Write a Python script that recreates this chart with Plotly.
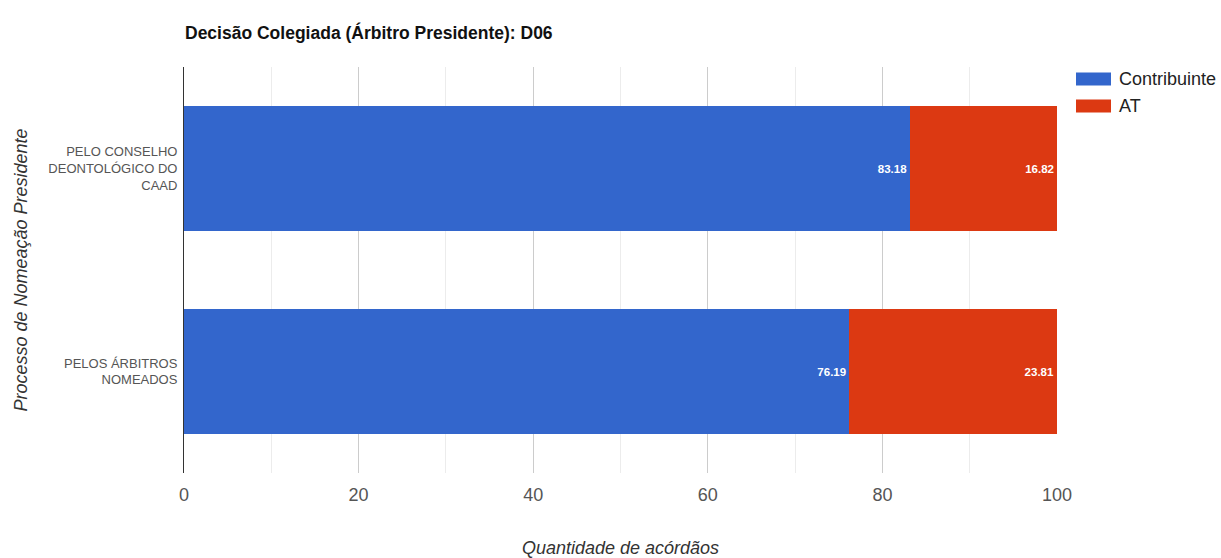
import plotly.graph_objects as go

# Categories (top to bottom) and percentage of decisions per party
categories = [
    "PELO CONSELHO<br>DEONTOLÓGICO DO<br>CAAD",
    "PELOS ÁRBITROS<br>NOMEADOS",
]
contribuinte = [83.18, 76.19]
at_values = [16.82, 23.81]
series_names = ["Contribuinte", "AT"]
series_colors = ["#3366CC", "#DC3912"]
x_ticks = [0, 20, 40, 60, 80, 100]

FONT = "Liberation Sans, Arial, sans-serif"
W, H = 1221, 558
M_L, M_R, M_T, M_B = 184, 164, 67, 85

fig = go.Figure()
for name, vals, col in zip(series_names, [contribuinte, at_values], series_colors):
    fig.add_trace(go.Bar(
        y=categories,
        x=vals,
        name=name,
        orientation="h",
        marker=dict(color=col, line=dict(width=0)),
        text=[f"{v:.2f}" for v in vals],
        textposition="inside",
        insidetextanchor="end",
        textangle=0,
        insidetextfont=dict(family=FONT, size=11.5, color="white", weight="bold"),
        showlegend=False,
    ))

# Legend drawn as wide colour keys to the right of the plot area
plot_w = W - M_L - M_R
plot_h = H - M_T - M_B
leg_x0 = (1076 - M_L) / plot_w
leg_x1 = (1111 - M_L) / plot_w
leg_tx = (1117 - M_L) / plot_w
for i, (name, col) in enumerate(zip(series_names, series_colors)):
    cy = (H - M_B - (79 + 27 * i)) / plot_h
    hh = 6.5 / plot_h
    fig.add_shape(type="rect", xref="paper", yref="paper",
                  x0=leg_x0, x1=leg_x1, y0=cy - hh, y1=cy + hh,
                  fillcolor=col, line=dict(width=0), layer="above")
    fig.add_annotation(xref="paper", yref="paper", x=leg_tx, y=cy,
                       text=name, showarrow=False, xanchor="left", yanchor="middle",
                       font=dict(family=FONT, size=18, color="#222222"))

fig.update_layout(
    width=W, height=H,
    margin=dict(l=M_L, r=M_R, t=M_T, b=M_B, autoexpand=False),
    paper_bgcolor="white", plot_bgcolor="white",
    barmode="stack",
    bargap=0.384,
    showlegend=False,
    font=dict(family=FONT),
    title=dict(
        text="<b>Decisão Colegiada (Árbitro Presidente): D06</b>",
        x=(M_L + 1) / W, xanchor="left", xref="container",
        y=1 - 33 / H, yanchor="middle", yref="container",
        font=dict(family=FONT, size=17.5, color="#111111"),
    ),
    xaxis=dict(
        range=[0, 100],
        tickvals=x_ticks,
        ticktext=[str(t) for t in x_ticks],
        tickfont=dict(family=FONT, size=18, color="#555555"),
        ticks="", ticklabelstandoff=9,
        showgrid=True, gridcolor="#cccccc", gridwidth=1,
        minor=dict(dtick=10, showgrid=True, gridcolor="#ececec", gridwidth=1),
        zeroline=False, showline=False,
        title=dict(text="<i>Quantidade de acórdãos</i>",
                   font=dict(family=FONT, size=18, color="#333333"), standoff=37),
        fixedrange=True,
    ),
    yaxis=dict(
        autorange="reversed",
        tickfont=dict(family=FONT, size=13, color="#555555"),
        ticks="", ticklabelstandoff=3,
        showgrid=False, zeroline=False,
        showline=True, linecolor="#333333", linewidth=1,
        title=dict(text="<i>Processo de Nomeação Presidente</i>",
                   font=dict(family=FONT, size=18, color="#333333"), standoff=16),
        fixedrange=True,
    ),
)

fig.write_html("out.html")
